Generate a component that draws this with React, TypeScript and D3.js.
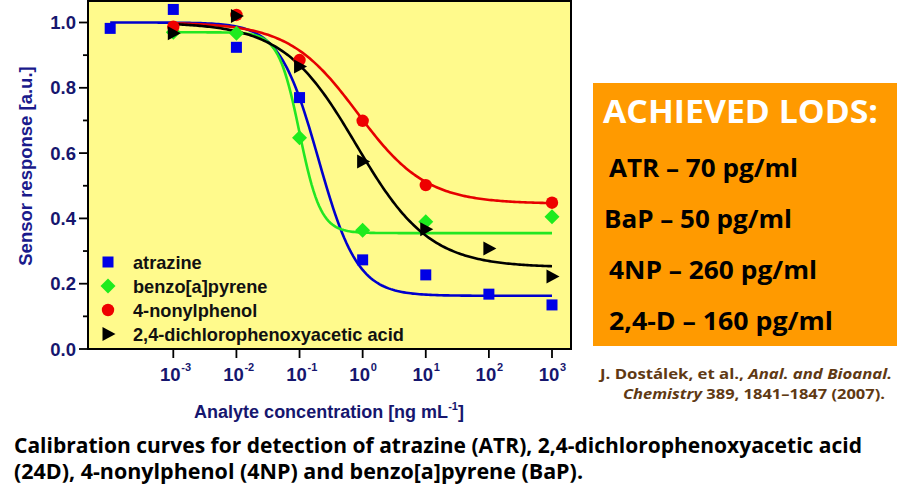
import React from "react";
import * as d3 from "d3";

// ---- data ----
const seriesNames = ["atrazine", "benzo[a]pyrene", "4-nonylphenol", "2,4-dichlorophenoxyacetic acid"];
const atrazineX = [1e-4, 1e-3, 1e-2, 1e-1, 1, 10, 100, 1000];
const atrazineY = [0.982, 1.04, 0.924, 0.77, 0.273, 0.227, 0.168, 0.135];
const bapX = [1e-3, 1e-2, 1e-1, 1, 10, 1000];
const bapY = [0.97, 0.967, 0.647, 0.364, 0.39, 0.405];
const npX = [1e-3, 1e-2, 1e-1, 1, 10, 1000];
const npY = [0.987, 1.023, 0.885, 0.699, 0.502, 0.448];
const dX = [1e-3, 1e-2, 1e-1, 1, 10, 100, 1000];
const dY = [0.967, 1.02, 0.865, 0.574, 0.367, 0.308, 0.222];

// sigmoidal (logistic) fit parameters per series
const fitTop = [1.0, 0.97, 1.0, 1.0];
const fitBottom = [0.163, 0.355, 0.445, 0.25];
const fitLogEC50 = [-0.7, -1.0, -0.08, -0.1];
const fitHill = [1.4, 2.6, 0.8, 0.75];
const fitStart = [1e-4, 1e-3, 1e-3, 1e-3];
const fitEnd = [1e3, 1e3, 1e3, 1e3];

const xTickExps = [-3, -2, -1, 0, 1, 2, 3];
const yTicks = [0, 0.2, 0.4, 0.6, 0.8, 1.0];
const yMinorTicks = [0.1, 0.3, 0.5, 0.7, 0.9];

const lodLines = ["ATR – 70 pg/ml", "BaP – 50 pg/ml", "4NP – 260 pg/ml", "2,4-D – 160 pg/ml"];

const colors = ["#0000E6", "#1EEB1E", "#EE0000", "#000000"];
const lineColors = ["#0000CC", "#22E622", "#E60000", "#000000"];
const navy = "#16166E";

function Marker({ kind, x, y, color }: { kind: number; x: number; y: number; color: string }) {
  if (kind === 0) return <rect x={x - 5.5} y={y - 5.5} width={11} height={11} fill={color} />;
  if (kind === 1)
    return <path d={`M${x},${y - 7.5}L${x + 7.5},${y}L${x},${y + 7.5}L${x - 7.5},${y}Z`} fill={color} />;
  if (kind === 2) return <circle cx={x} cy={y} r={6.2} fill={color} />;
  return <path d={`M${x - 5.5},${y - 7}L${x + 7.5},${y}L${x - 5.5},${y + 7}Z`} fill={color} />;
}

export default function App() {
  const plotL = 88, plotR = 571, plotT = 1, plotB = 349;
  const x = d3.scaleLog().domain([1e-3, 1e3]).range([173.3, 552]);
  const y = d3.scaleLinear().domain([0, 1]).range([349, 22.5]);

  const xs = [atrazineX, bapX, npX, dX];
  const ys = [atrazineY, bapY, npY, dY];

  const curves = fitTop.map((top, i) => {
    const lo = Math.log10(fitStart[i]);
    const hi = Math.log10(fitEnd[i]);
    const pts: [number, number][] = d3.range(0, 201).map((k) => {
      const lx = lo + ((hi - lo) * k) / 200;
      const v = fitBottom[i] + (top - fitBottom[i]) / (1 + Math.pow(10, fitHill[i] * (lx - fitLogEC50[i])));
      return [x(Math.pow(10, lx)), y(v)];
    });
    return d3.line()(pts) as string;
  });

  const sans = "'Liberation Sans', Arial, sans-serif";
  const myriad = "'Open Sans', 'Noto Sans', sans-serif";

  return (
    <svg width={903} height={499} style={{ position: "absolute", left: 0, top: 0, background: "#fff" }}>
      <rect x={0} y={0} width={903} height={499} fill="#fff" />
      {/* plot background */}
      <rect x={plotL} y={plotT} width={plotR - plotL} height={plotB - plotT} fill="#FFFA8C" />

      {/* curves */}
      {curves.map((d, i) => (
        <path key={"c" + i} d={d} fill="none" stroke={lineColors[i]} strokeWidth={2.6} />
      ))}
      {/* markers */}
      {xs.map((arr, i) =>
        arr.map((xv, j) => <Marker key={`m${i}-${j}`} kind={i} x={x(xv)} y={y(ys[i][j])} color={colors[i]} />)
      )}

      {/* legend */}
      {seriesNames.map((n, i) => (
        <g key={"l" + i}>
          <Marker kind={i} x={108} y={262 + i * 24} color={colors[i]} />
          <text x={133} y={268.5 + i * 24} fontFamily={sans} fontWeight="bold" fontSize={18.2} fill="#111">
            {n}
          </text>
        </g>
      ))}

      {/* frame */}
      <rect x={plotL} y={plotT} width={plotR - plotL} height={plotB - plotT} fill="none" stroke="#000" strokeWidth={2} />

      {/* y axis ticks */}
      {yTicks.map((t) => (
        <g key={"yt" + t}>
          <line x1={plotL - 9} x2={plotL} y1={y(t)} y2={y(t)} stroke="#000" strokeWidth={1.8} />
          <text x={plotL - 12} y={y(t) + 6.5} textAnchor="end" fontFamily={sans} fontWeight="bold" fontSize={18.5} fill={navy}>
            {t.toFixed(1)}
          </text>
        </g>
      ))}
      {yMinorTicks.map((t) => (
        <line key={"ym" + t} x1={plotL - 5} x2={plotL} y1={y(t)} y2={y(t)} stroke="#000" strokeWidth={1.8} />
      ))}

      {/* x axis ticks */}
      {xTickExps.map((e) => {
        const px = x(Math.pow(10, e));
        return (
          <g key={"xt" + e}>
            <line x1={px} x2={px} y1={plotB} y2={plotB + 9} stroke="#000" strokeWidth={1.8} />
            <text x={px - 3} y={381} textAnchor="middle" fontFamily={sans} fontWeight="bold" fontSize={18.5} fill={navy}>
              10
            </text>
            <text x={px + 8} y={371} textAnchor="start" fontFamily={sans} fontWeight="bold" fontSize={11} fill={navy}>
              {e < 0 ? "-" + Math.abs(e) : String(e)}
            </text>
          </g>
        );
      })}

      {/* axis titles */}
      <text x={329} y={418} textAnchor="middle" fontFamily={sans} fontWeight="bold" fontSize={18} fill={navy}>
        Analyte concentration [ng mL
        <tspan fontSize={11} dy={-8}>-1</tspan>
        <tspan dy={8}>]</tspan>
      </text>
      <text
        transform="translate(32,166) rotate(-90)"
        textAnchor="middle"
        fontFamily={sans}
        fontWeight="bold"
        fontSize={18.5}
        fill="#1A1A8C"
      >
        Sensor response [a.u.]
      </text>

      {/* LOD box */}
      <rect x={593} y={83} width={304} height={263} fill="#FF9A00" />
      <text x={603} y={123} fontFamily={myriad} fontWeight="bold" fontSize={33} fill="#fff" textLength={275} lengthAdjust="spacingAndGlyphs">
        ACHIEVED LODS:
      </text>
      {lodLines.map((t, i) => (
        <text
          key={"lod" + i}
          x={i === 1 ? 604 : 609}
          y={177 + i * 51}
          fontFamily={myriad}
          fontWeight="bold"
          fontSize={25}
          fill="#000"
          textLength={[189, 188, 208, 224][i]}
          lengthAdjust="spacingAndGlyphs"
        >
          {t}
        </text>
      ))}

      {/* citation */}
      <text x={600} y={379} fontFamily={myriad} fontWeight="bold" fontSize={14.5} fill="#603913" textLength={292} lengthAdjust="spacingAndGlyphs">
        J. Dostálek, et al., <tspan fontStyle="italic">Anal. and Bioanal.</tspan>
      </text>
      <text x={623} y={399} fontFamily={myriad} fontWeight="bold" fontSize={14.5} fill="#603913" textLength={262} lengthAdjust="spacingAndGlyphs">
        <tspan fontStyle="italic">Chemistry</tspan> 389, 1841–1847 (2007).
      </text>

      {/* caption */}
      <text x={14} y={453} fontFamily={myriad} fontWeight="bold" fontSize={21} fill="#000" textLength={848} lengthAdjust="spacingAndGlyphs">
        Calibration curves for detection of atrazine (ATR), 2,4-dichlorophenoxyacetic acid
      </text>
      <text x={14} y={479} fontFamily={myriad} fontWeight="bold" fontSize={21} fill="#000" textLength={569} lengthAdjust="spacingAndGlyphs">
        (24D), 4-nonylphenol (4NP) and benzo[a]pyrene (BaP).
      </text>
    </svg>
  );
}
